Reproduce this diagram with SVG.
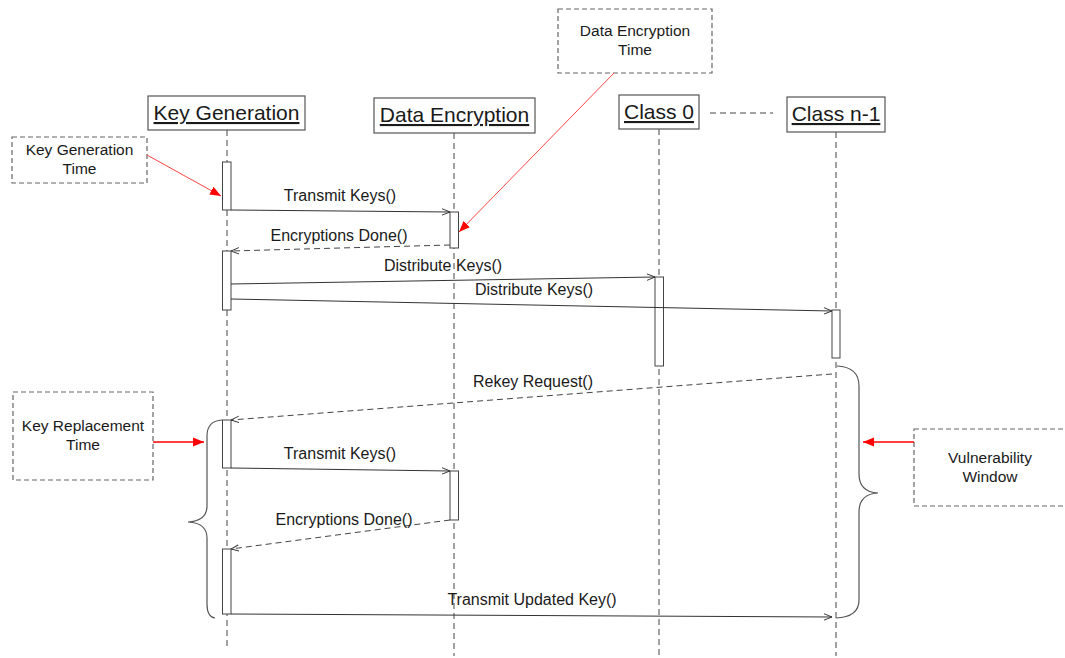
<svg xmlns="http://www.w3.org/2000/svg" width="1065" height="658" viewBox="0 0 1065 658">
  <defs>
    <marker id="open" viewBox="0 0 10 10" refX="10" refY="5" markerWidth="8" markerHeight="8" markerUnits="userSpaceOnUse" orient="auto">
      <path d="M0,1 L10,5 L0,9" fill="none" stroke="#333" stroke-width="1.2"/>
    </marker>
    <marker id="red" viewBox="0 0 10 10" refX="10" refY="5" markerWidth="11" markerHeight="11" markerUnits="userSpaceOnUse" orient="auto">
      <path d="M0,1 L10,5 L0,9 Z" fill="#f00"/>
    </marker>
  </defs>
  <style>
    text { font-family: "Liberation Sans", Arial, sans-serif; fill: #1a1a1a; }
    .head { font-size: 21px; text-anchor: middle; text-decoration: underline; }
    .lbl { font-size: 16px; text-anchor: middle; }
    .note { font-size: 15.5px; text-anchor: middle; }
    .hbox { fill: #fff; stroke: #555; stroke-width: 1.2; }
    .nbox { fill: #fff; stroke: #666; stroke-width: 1.2; stroke-dasharray: 5 3; }
    .life { stroke: #444; stroke-width: 1; stroke-dasharray: 6 4; fill: none; }
    .act { fill: #fff; stroke: #444; stroke-width: 1; }
    .msg { stroke: #333; stroke-width: 1; fill: none; marker-end: url(#open); }
    .ret { stroke: #444; stroke-width: 1; fill: none; stroke-dasharray: 6 4; marker-end: url(#open); }
    .brace { stroke: #555; stroke-width: 1.2; fill: none; }
    .pin { stroke: #f44; stroke-width: 1; fill: none; marker-end: url(#red); }
    .pin2 { stroke: #f00; stroke-width: 1.4; fill: none; marker-end: url(#red); }
  </style>
  <rect width="1065" height="658" fill="#fff"/>

  <!-- lifelines -->
  <g id="lifelines">
    <line class="life" x1="227" y1="130" x2="227" y2="646"/>
    <line class="life" x1="454" y1="133" x2="454" y2="656"/>
    <line class="life" x1="659" y1="129" x2="659" y2="656"/>
    <line class="life" x1="836" y1="132" x2="836" y2="656"/>
    <line class="life" x1="710" y1="113" x2="773" y2="113"/>
  </g>

  <!-- participants -->
  <g id="keygen">
    <rect class="hbox" x="148" y="96" width="157" height="34"/>
    <text class="head" x="226.5" y="120">Key Generation</text>
  </g>
  <g id="dataenc">
    <rect class="hbox" x="374" y="98" width="161" height="35"/>
    <text class="head" x="454.5" y="122">Data Encryption</text>
  </g>
  <g id="class0">
    <rect class="hbox" x="619" y="95" width="80" height="34"/>
    <text class="head" x="659" y="119">Class 0</text>
  </g>
  <g id="classn1">
    <rect class="hbox" x="787" y="97" width="98" height="35"/>
    <text class="head" x="836" y="121">Class n-1</text>
  </g>

  <!-- activations -->
  <g id="activations">
    <rect class="act" x="222.5" y="162" width="8.5" height="48"/>
    <rect class="act" x="450" y="212" width="8.5" height="36"/>
    <rect class="act" x="222.5" y="251" width="8.5" height="59"/>
    <rect class="act" x="655" y="277" width="8.5" height="89"/>
    <rect class="act" x="832" y="310" width="8" height="48"/>
    <rect class="act" x="222.5" y="420" width="8.5" height="48"/>
    <rect class="act" x="450" y="471" width="8.5" height="49"/>
    <rect class="act" x="222.5" y="549" width="8.5" height="65"/>
  </g>

  <!-- messages -->
  <g id="connectors">
    <path class="msg" d="M231,210 L450,212"/>
    <path class="ret" d="M450,245 L231,251"/>
    <path class="msg" d="M231,284 L655,277"/>
    <path class="msg" d="M231,299 L832,311"/>
    <path class="ret" d="M832,374 L231,420"/>
    <path class="msg" d="M231,468 L450,471"/>
    <path class="ret" d="M450,520 L231,549"/>
    <path class="msg" d="M231,614 L832,617"/>
  </g>

  <g id="labels">
    <text class="lbl" x="340" y="201">Transmit Keys()</text>
    <text class="lbl" x="339" y="241">Encryptions Done()</text>
    <text class="lbl" x="443" y="271">Distribute Keys()</text>
    <text class="lbl" x="534" y="295">Distribute Keys()</text>
    <text class="lbl" x="533" y="387">Rekey Request()</text>
    <text class="lbl" x="340" y="459">Transmit Keys()</text>
    <text class="lbl" x="344" y="525">Encryptions Done()</text>
    <text class="lbl" x="532" y="605">Transmit Updated Key()</text>
  </g>

  <!-- braces -->
  <g id="brace-left">
    <path class="brace" d="M222,420 Q207,421 207,436 L207,506 Q207,521 188,522 Q207,523 207,538 L207,604 Q207,617 215,618"/>
  </g>
  <g id="brace-right">
    <path class="brace" d="M837,366 Q859,367 859,386 L859,474 Q859,492 878,493 Q859,494 859,512 L859,600 Q859,617 836,618"/>
  </g>

  <!-- notes -->
  <g id="note-keygen">
    <rect class="nbox" x="12" y="137" width="135" height="46"/>
    <text class="note" x="79.5" y="155">Key Generation</text>
    <text class="note" x="79.5" y="174">Time</text>
  </g>
  <g id="note-dataenc">
    <rect class="nbox" x="558" y="9" width="154" height="64"/>
    <text class="note" x="635" y="36">Data Encryption</text>
    <text class="note" x="635" y="55">Time</text>
  </g>
  <g id="note-replace">
    <rect class="nbox" x="13" y="392" width="140" height="88"/>
    <text class="note" x="83" y="431">Key Replacement</text>
    <text class="note" x="83" y="450">Time</text>
  </g>
  <g id="note-vuln">
    <rect class="nbox" x="914" y="429" width="160" height="77"/>
    <text class="note" x="990" y="463">Vulnerability</text>
    <text class="note" x="990" y="482">Window</text>
  </g>

  <!-- pointers from notes -->
  <g id="pointers">
    <path class="pin" d="M147,155 L221,196"/>
    <path class="pin" d="M614,73 L459,232"/>
    <path class="pin2" d="M153,442 L204,442"/>
    <path class="pin2" d="M914,442 L863,442"/>
  </g>
</svg>
